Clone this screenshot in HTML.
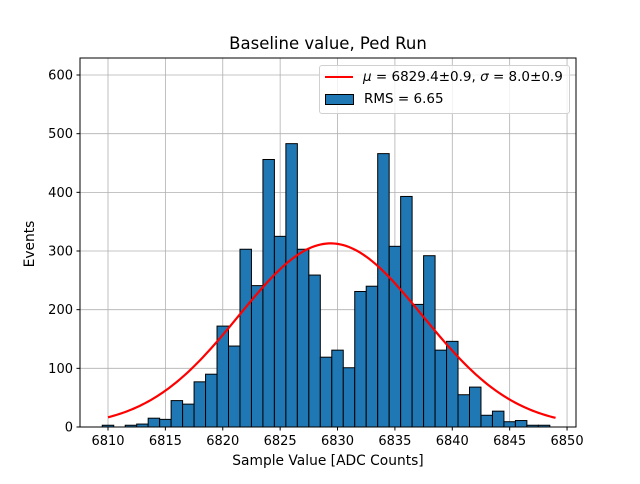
<!DOCTYPE html>
<html><head><meta charset="utf-8"><style>
body{margin:0;background:#fff;font-family:"DejaVu Sans","Liberation Sans",sans-serif;}
</style></head><body>
<svg id="chart" width="640" height="480" xmlns="http://www.w3.org/2000/svg" style="font-family:'DejaVu Sans','Liberation Sans',sans-serif"></svg>
<script>
const binCenters=[6810,6811,6812,6813,6814,6815,6816,6817,6818,6819,6820,6821,6822,6823,6824,6825,6826,6827,6828,6829,6830,6831,6832,6833,6834,6835,6836,6837,6838,6839,6840,6841,6842,6843,6844,6845,6846,6847,6848];
const counts=[3,0,3,5,15,13,45,39,77,90,172,138,303,241,456,325,483,303,259,119,131,101,231,240,466,308,393,209,292,131,146,55,68,20,27,9,11,3,3];
const xTicks=[6810,6815,6820,6825,6830,6835,6840,6845,6850];
const yTicks=[0,100,200,300,400,500,600];
const fitMu=6829.4, fitSigma=8.0, fitPeak=313;
const NS='http://www.w3.org/2000/svg';
const svg=document.getElementById('chart');
const L=80,R=576,T=58,B=427,xmin=6807.56,xmax=6850.78,ymax=629;
const X=v=>L+(v-xmin)/(xmax-xmin)*(R-L);
const Y=v=>B-v/ymax*(B-T);
function mk(tag,attrs,txt){const e=document.createElementNS(NS,tag);for(const k in attrs)e.setAttribute(k,attrs[k]);if(txt!==undefined)e.textContent=txt;svg.appendChild(e);return e;}
xTicks.forEach(t=>{const g=mk('line',{x1:X(t),x2:X(t),y1:T,y2:B,stroke:'#b0b0b0','stroke-width':0.8});

});
yTicks.forEach(t=>{const g=mk('line',{x1:L,x2:R,y1:Y(t),y2:Y(t),stroke:'#b0b0b0','stroke-width':0.8});

});
binCenters.forEach((c,i)=>{if(counts[i]<=0)return;const r=mk('rect',{x:X(c-0.5),y:Y(counts[i]),width:X(c+0.5)-X(c-0.5),height:B-Y(counts[i]),fill:'#1f77b4',stroke:'#000','stroke-width':1});

});
let d='';for(let v=6810;v<=6849.001;v+=0.25){const y=fitPeak*Math.exp(-0.5*Math.pow((v-fitMu)/fitSigma,2));d+=(d?'L':'M')+X(v).toFixed(2)+','+Y(y).toFixed(2);}
const fc=mk('path',{d:d,fill:'none',stroke:'#ff0000','stroke-width':2.2});


const fr=mk('rect',{x:L,y:T,width:R-L,height:B-T,fill:'none',stroke:'#000','stroke-width':1});


xTicks.forEach(t=>{mk('line',{x1:X(t),x2:X(t),y1:B,y2:B+3.5,stroke:'#000'});const tl=mk('text',{x:X(t),y:B+18,'text-anchor':'middle','font-size':13},t);

});
yTicks.forEach(t=>{mk('line',{x1:L-3.5,x2:L,y1:Y(t),y2:Y(t),stroke:'#000'});const tl=mk('text',{x:L-7,y:Y(t)+4.5,'text-anchor':'end','font-size':13},t);

});
</script>
<div style="position:absolute;left:0;top:0;width:640px;height:480px;pointer-events:none">
<div style="position:absolute;left:0;width:656px;top:34px;text-align:center;font-size:16.5px">Baseline value, Ped Run</div>
<div style="position:absolute;left:0;width:656px;top:453px;text-align:center;font-size:13.8px">Sample Value [ADC Counts]</div>
<div style="position:absolute;left:-5px;top:236px;width:70px;text-align:center;font-size:13.8px;transform:rotate(-90deg);transform-origin:35px 8px">Events</div>
<div style="position:absolute;left:319px;top:65px;width:249px;height:47px;border:1px solid #d0d0d0;border-radius:3px;background:rgba(255,255,255,0.8);font-size:13.5px">
<div style="position:absolute;left:5px;top:3px;white-space:nowrap"><span style="display:inline-block;width:28px;height:2px;background:red;vertical-align:middle;margin-right:10px"></span><i>μ</i> = 6829.4±0.9, <i>σ</i> = 8.0±0.9</div>
<div style="position:absolute;left:5px;top:25px;white-space:nowrap"><span style="display:inline-block;width:27px;height:9px;background:#1f77b4;border:1px solid #000;vertical-align:middle;margin-right:10px"></span>RMS = 6.65</div>
</div></div>
</body></html>
